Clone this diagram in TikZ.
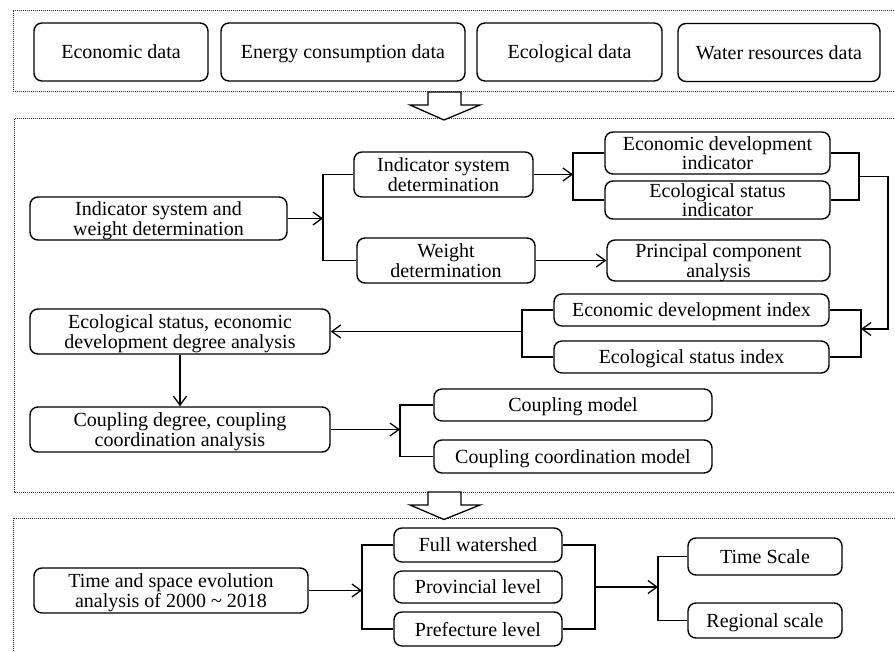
\documentclass[tikz,border=0pt]{standalone}
\usepackage{fontspec}
\setmainfont{Liberation Serif}
\usetikzlibrary{arrows.meta}
\tikzset{
  box/.style={draw, line width=1.4pt, rounded corners=8pt, inner sep=0pt, align=center,
    text depth=0pt, font=\fontsize{20}{19.5}\selectfont},
  ln/.style={line width=1.4pt},
  arr/.style={line width=1.4pt, -{Straight Barb[length=9pt,width=13pt,line width=1.3pt]}},
  frame/.style={line width=1pt, dash pattern=on 1pt off 1pt, black!80},
  blockarrow/.style={draw, fill=white, line width=1.3pt, line join=miter}
}
\newcommand{\bx}[6]{\node[box, minimum width=#4pt, minimum height=#5pt] (#1) at (#2,#3) {#6};}
\begin{document}
\begin{tikzpicture}[x=1pt,y=-1pt]
\useasboundingbox (0,0) rectangle (895,652);
\clip (0,0) rectangle (895,652);
\fill[white] (0,0) rectangle (895,652);
% frames
\draw[frame] (13,11) rectangle (910,91.5);
\draw[frame] (14,119) rectangle (910,492);
\draw[frame] (13,518) rectangle (910,670);
% block arrows
\draw[blockarrow] (428,92) -- (461,92) -- (461,105) -- (480,105) -- (444,120) -- (410,105) -- (428,105) -- cycle;
\draw[blockarrow] (428,492) -- (461,492) -- (461,505) -- (480,505) -- (444,519.5) -- (410,505) -- (428,505) -- cycle;
% top row
\bx{eco}{121}{52}{174}{58}{Economic data}
\bx{ene}{343}{52}{244}{58}{Energy consumption data}
\bx{ecl}{569.5}{52}{185}{58}{Ecological data}
\bx{wat}{779}{52.5}{202}{58}{Water resources data}
% middle
\bx{isw}{158.5}{218.5}{257}{43}{Indicator system and\\weight determination}
\bx{isd}{443.5}{174.5}{179}{45}{Indicator system\\determination}
\bx{wd}{446}{260.5}{178}{45}{Weight\\determination}
\bx{edi}{717.5}{153}{225}{42}{Economic development\\indicator}
\bx{esi}{717.5}{200}{225}{38}{Ecological status\\indicator}
\bx{pca}{718.5}{260.5}{223}{41}{Principal component\\analysis}
\bx{edx}{691.5}{310}{275}{32}{Economic development index}
\bx{esx}{691.5}{357}{275}{32}{Ecological status index}
\bx{esa}{180}{331.5}{300}{45}{Ecological status, economic\\development degree analysis}
\bx{cda}{180}{429.5}{300}{45}{Coupling degree, coupling\\coordination analysis}
\bx{cm}{573}{405}{278}{32}{Coupling model}
\bx{ccm}{573}{456.5}{278}{33}{Coupling coordination model}
% bottom
\bx{ts}{171}{590.5}{274}{45}{Time and space evolution\\analysis of 2000 \textasciitilde{} 2018}
\bx{fw}{478}{545}{168}{34}{Full watershed}
\bx{pl}{478}{587}{168}{32}{Provincial level}
\bx{pf}{478}{629}{168}{34}{Prefecture level}
\bx{tsc}{765}{556.5}{154}{37}{Time Scale}
\bx{rs}{765}{620.5}{154}{35}{Regional scale}
% junction coordinates
\coordinate (j1) at (323,218.5);
\coordinate (j2) at (573,174.5);
\coordinate (j3) at (859,176.5);
\coordinate (c1) at (888,176.5);
\coordinate (j4) at (861,329);
\coordinate (j5) at (522,331.5);
\coordinate (j6) at (400,429.5);
\coordinate (j7) at (362,590.5);
\coordinate (j8) at (595,587);
\coordinate (j9) at (658,587);
% connectors
\draw[arr] (isw.east) -- (j1);
\draw[ln] (isd.west) -| (j1) |- (wd.west);
\draw[arr] (isd.east) -- (j2);
\draw[ln] (edi.west) -| (j2) |- (esi.west);
\draw[arr] (wd.east) -- (pca.west);
\draw[ln] (edi.east) -| (j3) |- (esi.east);
\draw[arr] (j3) -- (c1) |- (j4);
\draw[ln] (edx.east) -| (j4) |- (esx.east);
\draw[ln] (edx.west) -| (j5) |- (esx.west);
\draw[arr] (j5) -- (esa.east);
\draw[arr] (esa.south) -- (cda.north);
\draw[arr] (cda.east) -- (j6);
\draw[ln] (cm.west) -| (j6) |- (ccm.west);
\draw[arr] (ts.east) -- (j7);
\draw[ln] (fw.west) -| (j7) |- (pf.west);
\draw[ln] (fw.east) -| (j8) |- (pf.east);
\draw[arr] (j8) -- (j9);
\draw[ln] (tsc.west) -| (j9) |- (rs.west);
\end{tikzpicture}
\end{document}
